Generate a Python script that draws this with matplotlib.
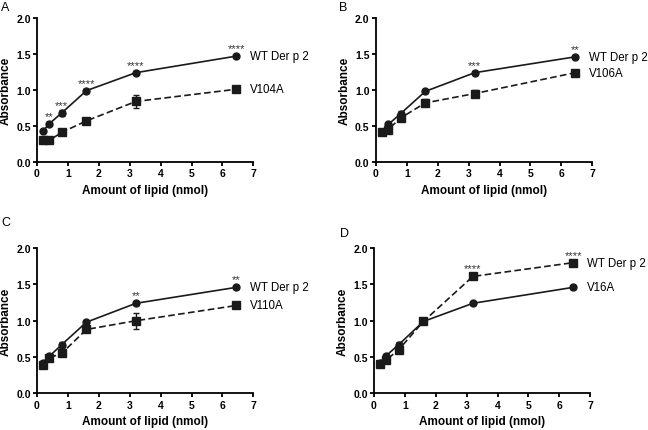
import matplotlib
matplotlib.use("Agg")
import matplotlib.pyplot as plt

plt.rcParams['font.family'] = ['Liberation Sans', 'DejaVu Sans']

lipid = [0.2, 0.4, 0.8, 1.6, 3.2, 6.45]

# panel A
wt_a = [0.43, 0.53, 0.68, 0.99, 1.24, 1.47]
wt_a_err = [0.02, 0.02, 0.04, 0.02, 0.02, 0.02]
mut_a = [0.30, 0.30, 0.41, 0.57, 0.84, 1.01]
mut_a_err = [0.02, 0.02, 0.02, 0.03, 0.095, 0.02]
stars_a = ["", "**", "***", "****", "****", "****"]

# panel B
wt_b = [0.42, 0.52, 0.67, 0.98, 1.24, 1.46]
wt_b_err = [0.02, 0.02, 0.04, 0.02, 0.02, 0.02]
mut_b = [0.41, 0.45, 0.61, 0.82, 0.95, 1.24]
mut_b_err = [0.02, 0.02, 0.03, 0.05, 0.05, 0.02]
stars_b = ["", "", "", "", "***", "**"]

# panel C
wt_c = [0.42, 0.51, 0.67, 0.98, 1.24, 1.46]
wt_c_err = [0.02, 0.02, 0.04, 0.02, 0.02, 0.02]
mut_c = [0.39, 0.49, 0.55, 0.88, 1.00, 1.21]
mut_c_err = [0.03, 0.02, 0.02, 0.04, 0.11, 0.02]
stars_c = ["", "", "", "", "**", "**"]

# panel D
wt_d = [0.42, 0.52, 0.67, 0.99, 1.24, 1.46]
wt_d_err = [0.02, 0.02, 0.04, 0.02, 0.02, 0.02]
mut_d = [0.40, 0.46, 0.60, 0.99, 1.61, 1.80]
mut_d_err = [0.02, 0.03, 0.04, 0.02, 0.02, 0.04]
stars_d = ["", "", "", "", "****", "****"]

panels = [
    ("A", wt_a, wt_a_err, mut_a, mut_a_err, stars_a, "WT Der p 2", "V104A", [0.057, 0.622, 0.334, 0.334]),
    ("B", wt_b, wt_b_err, mut_b, mut_b_err, stars_b, "WT Der p 2", "V106A", [0.580, 0.622, 0.334, 0.334]),
    ("C", wt_c, wt_c_err, mut_c, mut_c_err, stars_c, "WT Der p 2", "V110A", [0.057, 0.085, 0.334, 0.337]),
    ("D", wt_d, wt_d_err, mut_d, mut_d_err, stars_d, "WT Der p 2", "V16A", [0.577, 0.085, 0.334, 0.337]),
]
letter_pos = {"A": (0.002, 0.995), "B": (0.523, 0.995), "C": (0.002, 0.497), "D": (0.525, 0.470)}

fig = plt.figure(figsize=(6.48, 4.31), dpi=100)

for name, wt, wt_err, mut, mut_err, stars, lab1, lab2, rect in panels:
    ax = fig.add_axes(rect)
    ax.errorbar(lipid, wt, yerr=wt_err, color='#1a1a1a', lw=1.2, marker='o', ms=5,
                capsize=2.5, elinewidth=1, clip_on=False, zorder=3)
    ax.errorbar(lipid, mut, yerr=mut_err, color='#1a1a1a', lw=1.2, ls=(0, (4, 2)), marker='s', ms=5.5,
                capsize=2.5, elinewidth=1, clip_on=False, zorder=3)
    # significance stars above the higher curve
    for x, s, a, b in zip(lipid, stars, wt, mut):
        if s:
            ax.text(x, max(a, b) + 0.04, s, ha='center', va='bottom', fontsize=8, color='#333333')
    # curve labels at the right end
    top = max(wt[-1], mut[-1])
    bot = min(wt[-1], mut[-1])
    ax.text(6.9, top, lab1, ha='left', va='center', fontsize=8.3, clip_on=False)
    ax.text(6.9, bot, lab2, ha='left', va='center', fontsize=8.3, clip_on=False)

    ax.set_xlim(0, 7)
    ax.set_ylim(0, 2.0)
    ax.set_xticks(range(0, 8))
    ax.set_yticks([0.0, 0.5, 1.0, 1.5, 2.0])
    ax.set_yticklabels(["0.0", "0.5", "1.0", "1.5", "2.0"])
    ax.spines['top'].set_visible(False)
    ax.spines['right'].set_visible(False)
    ax.spines['left'].set_linewidth(1.3)
    ax.spines['bottom'].set_linewidth(1.3)
    ax.tick_params(direction='out', length=3, width=1.3, labelsize=7.5, pad=1.5)
    for t in ax.get_xticklabels() + ax.get_yticklabels():
        t.set_fontweight('bold')
    ax.set_xlabel("Amount of lipid (nmol)", fontsize=8.5, fontweight='bold', labelpad=4)
    ax.set_ylabel("Absorbance", fontsize=8.5, fontweight='bold', labelpad=3)

    lx, ly = letter_pos[name]
    fig.text(lx, ly, name, ha='left', va='top', fontsize=9)

fig.savefig("out.png", dpi=100)
